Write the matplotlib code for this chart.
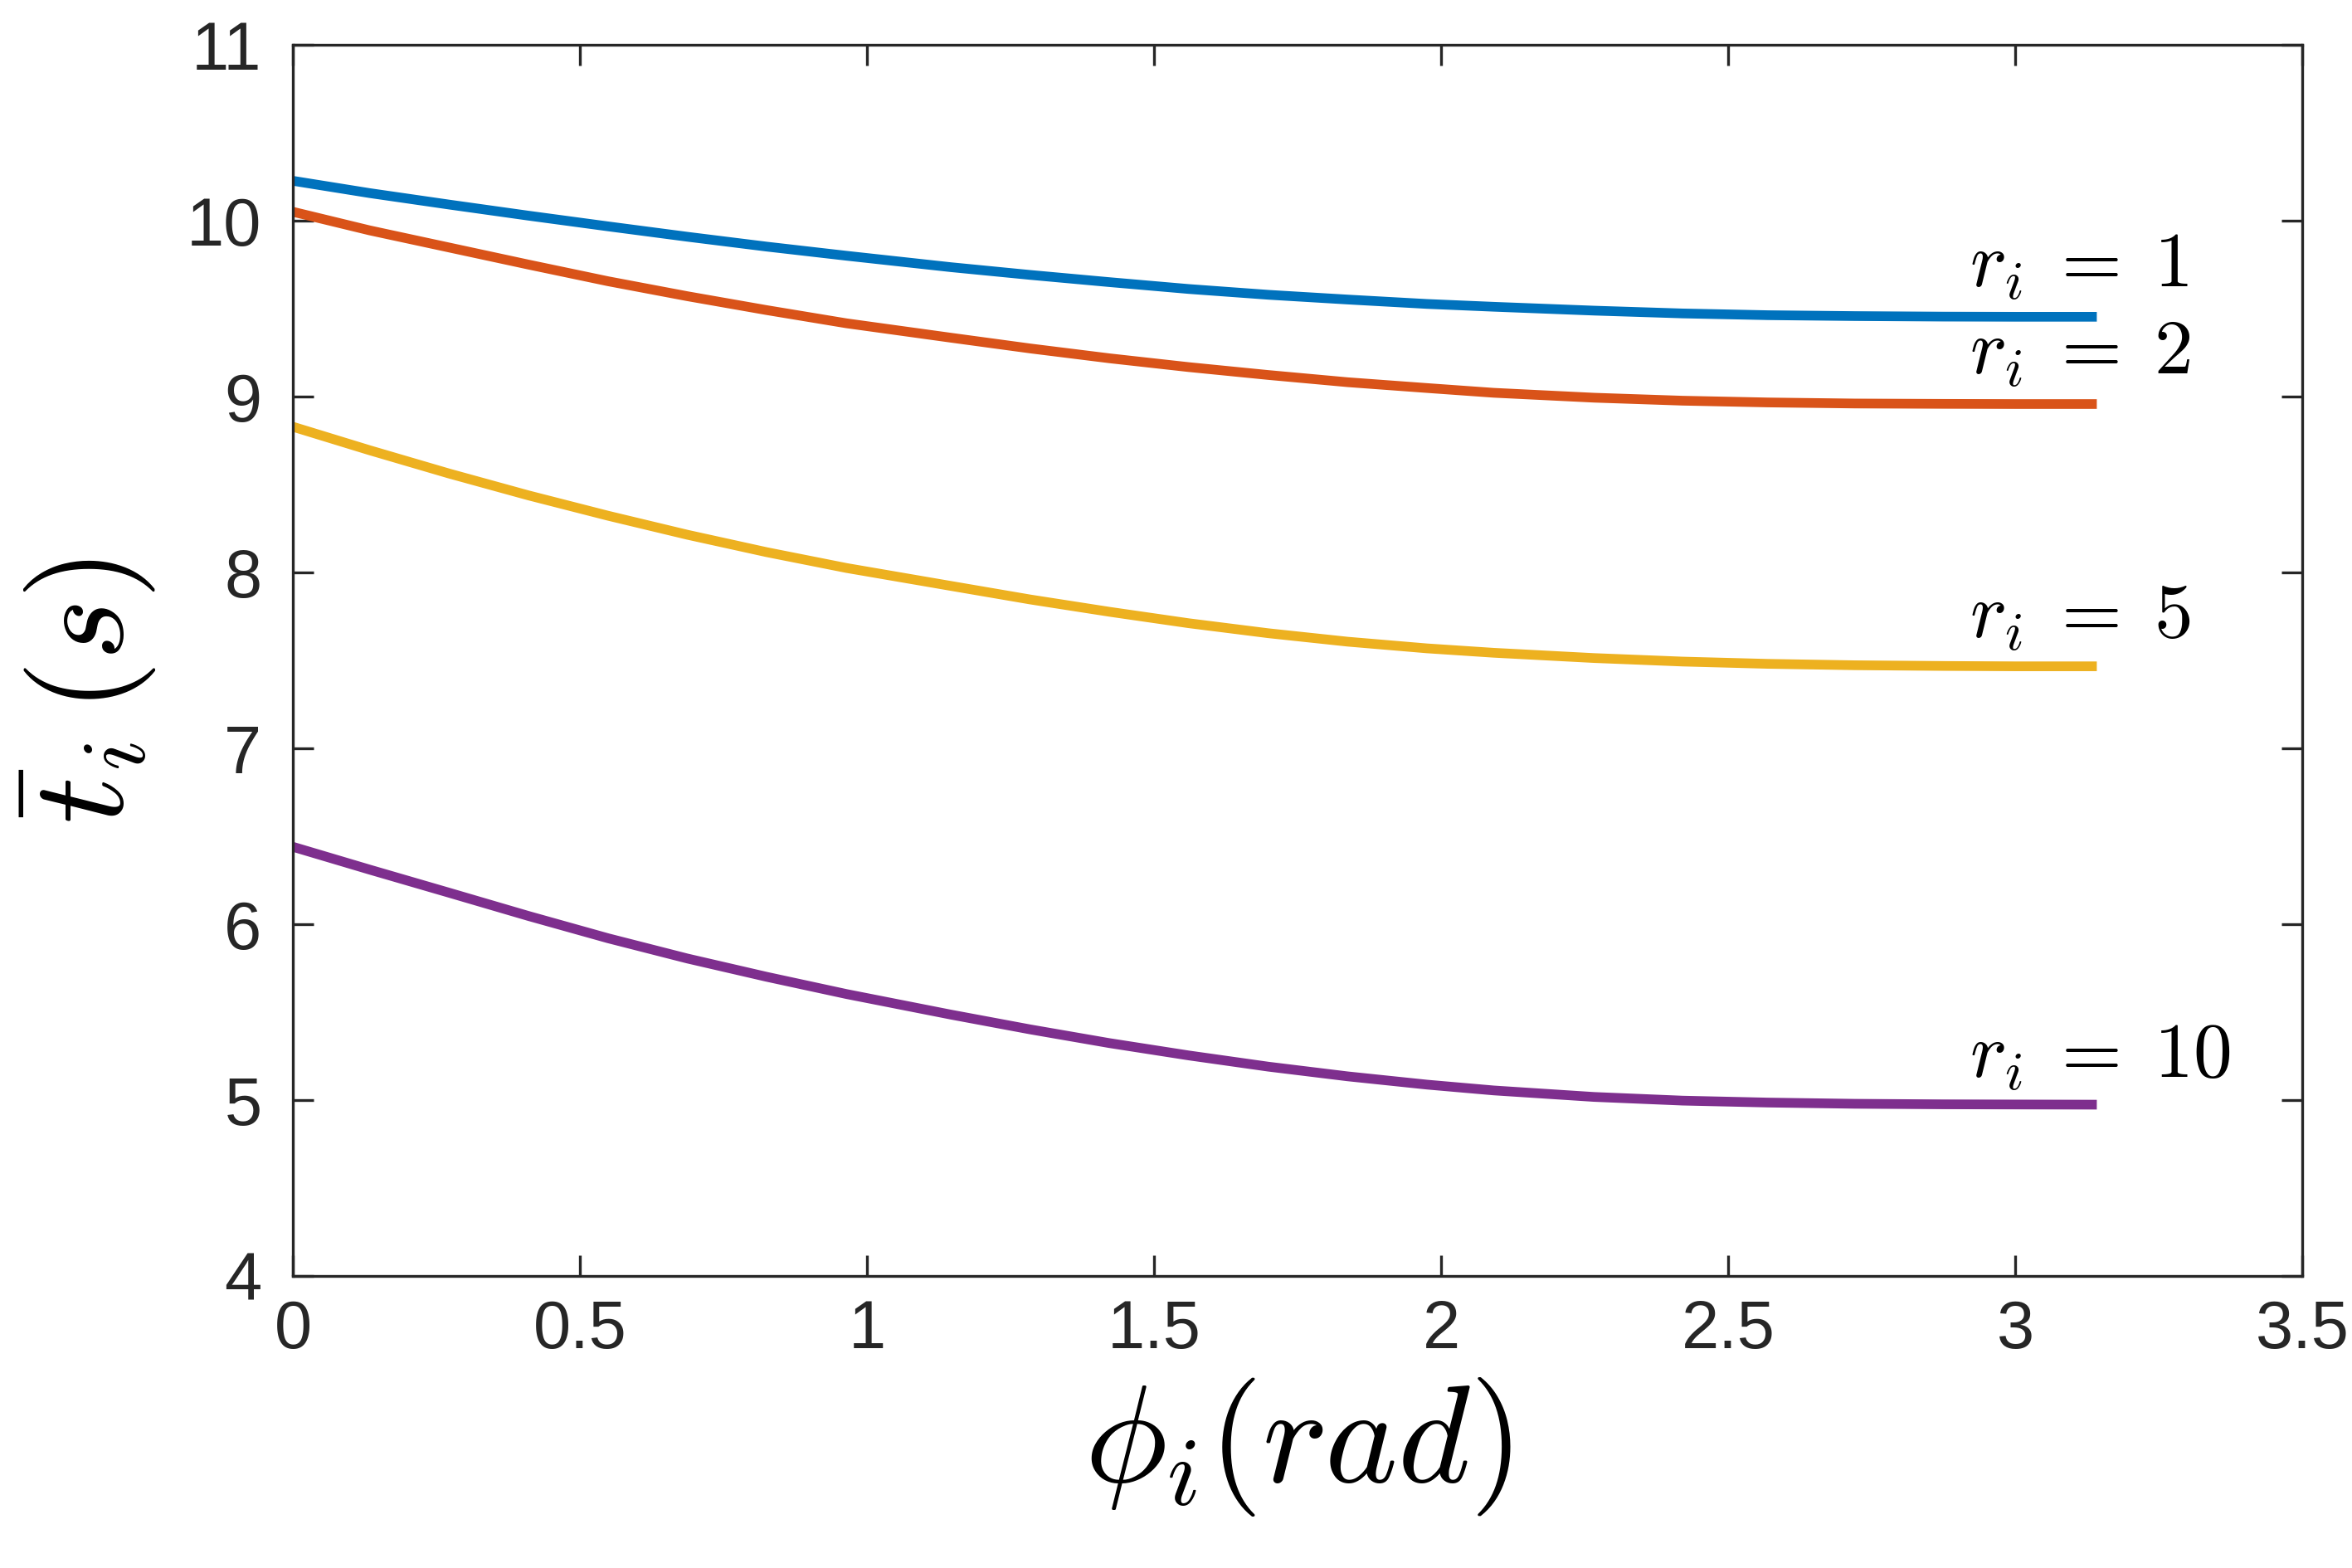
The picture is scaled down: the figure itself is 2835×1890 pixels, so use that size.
import numpy as np
import matplotlib
matplotlib.use('Agg')
import matplotlib.pyplot as plt

# values
phi = [0, 0.134, 0.272, 0.41, 0.549, 0.687, 0.825, 0.964, 1.146, 1.284, 1.422, 1.56,
       1.699, 1.837, 1.975, 2.091, 2.266, 2.42, 2.569, 2.72, 2.874, 3.0, np.pi]
t_r1 = [10.228, 10.158, 10.093, 10.030, 9.969, 9.910, 9.854, 9.802, 9.737, 9.693, 9.652, 9.613,
        9.580, 9.553, 9.528, 9.512, 9.490, 9.474, 9.464, 9.459, 9.456, 9.455, 9.455]
t_r2 = [10.052, 9.946, 9.849, 9.752, 9.657, 9.572, 9.493, 9.418, 9.336, 9.275, 9.219, 9.169,
        9.124, 9.083, 9.050, 9.023, 8.995, 8.978, 8.968, 8.962, 8.960, 8.959, 8.959]
t_r5 = [8.830, 8.696, 8.564, 8.440, 8.324, 8.216, 8.117, 8.027, 7.925, 7.848, 7.778, 7.713,
        7.656, 7.608, 7.570, 7.545, 7.515, 7.495, 7.482, 7.474, 7.470, 7.468, 7.468]
t_r10 = [6.442, 6.312, 6.181, 6.049, 5.922, 5.807, 5.703, 5.605, 5.488, 5.404, 5.326, 5.256,
         5.192, 5.137, 5.090, 5.057, 5.020, 4.999, 4.988, 4.981, 4.978, 4.977, 4.976]

series = [t_r1, t_r2, t_r5, t_r10]
labels = [r'$r_i\;=\;1$', r'$r_i\;=\;2$', r'$r_i\;=\;5$', r'$r_i\;=\;10$']
label_y = [9.625, 9.128, 7.63, 5.13]
colors = ['#0072BD', '#D95319', '#EDB120', '#7E2F8E']

xticks = [0, 0.5, 1, 1.5, 2, 2.5, 3, 3.5]
xtick_labels = ['0', '0.5', '1', '1.5', '2', '2.5', '3', '3.5']
yticks = [4, 5, 6, 7, 8, 9, 10, 11]

plt.rcParams['mathtext.fontset'] = 'cm'
axcol = '#262626'

fig = plt.figure(figsize=(9.45, 6.3), dpi=300)
ax = fig.add_axes([0.1245, 0.186, 0.8545, 0.7853])

for y, c in zip(series, colors):
    ax.plot(phi, y, color=c, linewidth=2.8, solid_capstyle='butt')

for lab, ly in zip(labels, label_y):
    ax.text(2.92, ly, lab, fontsize=22.5, ha='left', va='baseline', color='black')

ax.set_xlim(0, 3.5)
ax.set_ylim(4, 11)
ax.set_xticks(xticks)
ax.set_xticklabels(xtick_labels)
ax.set_yticks(yticks)

for sp in ax.spines.values():
    sp.set_linewidth(0.8)
    sp.set_color(axcol)

ax.tick_params(direction='in', length=6, width=0.8, color=axcol, labelcolor=axcol,
               top=True, right=True, labelsize=19.5)
ax.tick_params(axis='x', pad=6.5)
ax.tick_params(axis='y', pad=9)
for lbl in ax.get_xticklabels() + ax.get_yticklabels():
    lbl.set_family('Liberation Sans')

ax.set_xlabel(r'$\phi_i(rad)$', fontsize=40, labelpad=4)
ax.set_ylabel(r'$\bar{t}_i\,(s)$', fontsize=38)
ax.yaxis.set_label_coords(-0.067, 0.475)

fig.savefig('out.png', dpi=300)
